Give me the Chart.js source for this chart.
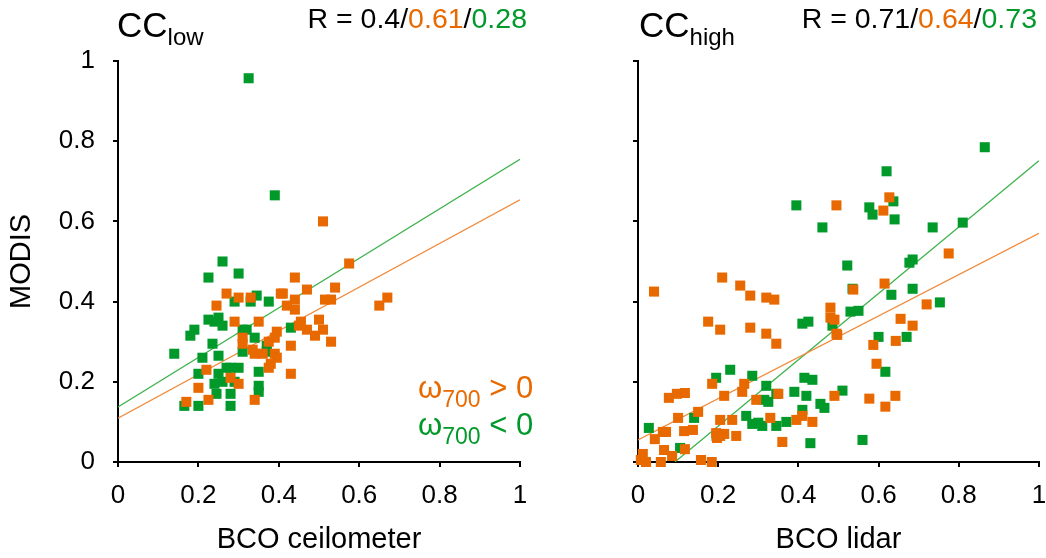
<!DOCTYPE html>
<html>
<head>
<meta charset="utf-8">
<script src="https://cdn.jsdelivr.net/npm/chart.js@4"></script>
<style>
  html, body { margin: 0; padding: 0; background: #fff; }
  body { width: 1046px; height: 558px; position: relative; overflow: hidden; font-family: 'Liberation Sans', Arial, sans-serif; }
  .panel { position: absolute; top: 0; height: 558px; }
  .txt { position: absolute; line-height: 1; white-space: nowrap; color: #000; }
  .sub { position: relative; }
  .up { color: #e86900; }
  .down { color: #00992a; }
</style>
</head>
<body>
<div class="panel" style="left:0;width:540px"><canvas id="lowChart"></canvas></div>
<div class="panel" style="left:540px;width:506px"><canvas id="highChart"></canvas></div>

<div class="txt" style="left:117px;top:7px;font-size:35px">CC<span class="sub" style="font-size:24px;top:8px">low</span></div>
<div class="txt" style="right:519px;top:4px;font-size:28.5px">R = 0.4/<span class="up">0.61</span>/<span class="down">0.28</span></div>
<div class="txt" style="left:639px;top:7px;font-size:35px">CC<span class="sub" style="font-size:24px;top:8px">high</span></div>
<div class="txt" style="right:9px;top:4px;font-size:28.5px">R = 0.71/<span class="up">0.64</span>/<span class="down">0.73</span></div>

<div class="txt up" style="left:418px;top:372px;font-size:31px">ω<span class="sub" style="font-size:23px;top:9px">700</span> &gt; 0</div>
<div class="txt down" style="left:418px;top:409px;font-size:31px">ω<span class="sub" style="font-size:23px;top:9px">700</span> &lt; 0</div>

<script>
( function () {
	'use strict';

	// CC_low: BCO ceilometer (x) vs MODIS (y)
	const LOW_UP = [
		[0.51, 0.60], [0.575, 0.495], [0.44, 0.46], [0.27, 0.42], [0.30, 0.41], [0.33, 0.41],
		[0.405, 0.42], [0.41, 0.42], [0.44, 0.405], [0.47, 0.43], [0.54, 0.435], [0.515, 0.405],
		[0.53, 0.405], [0.67, 0.41], [0.65, 0.39], [0.245, 0.39], [0.42, 0.39], [0.44, 0.38],
		[0.29, 0.35], [0.35, 0.35], [0.455, 0.35], [0.50, 0.355], [0.395, 0.325], [0.45, 0.34],
		[0.47, 0.33], [0.51, 0.33], [0.49, 0.315], [0.39, 0.31], [0.31, 0.31], [0.375, 0.30],
		[0.53, 0.30], [0.31, 0.295], [0.43, 0.29], [0.335, 0.28], [0.39, 0.27], [0.34, 0.27],
		[0.36, 0.27], [0.395, 0.26], [0.38, 0.245], [0.375, 0.235], [0.22, 0.23], [0.43, 0.22],
		[0.28, 0.21], [0.30, 0.195], [0.20, 0.185], [0.17, 0.15], [0.225, 0.155], [0.34, 0.155],
	];
	const LOW_DOWN = [
		[0.325, 0.957], [0.39, 0.665], [0.26, 0.50], [0.225, 0.46], [0.30, 0.47], [0.345, 0.415],
		[0.29, 0.40], [0.33, 0.40], [0.375, 0.40], [0.225, 0.355], [0.25, 0.36], [0.24, 0.35],
		[0.26, 0.34], [0.19, 0.33], [0.18, 0.315], [0.31, 0.33], [0.32, 0.33], [0.34, 0.31],
		[0.43, 0.335], [0.235, 0.295], [0.37, 0.29], [0.37, 0.275], [0.31, 0.275], [0.14, 0.27],
		[0.21, 0.26], [0.25, 0.265], [0.20, 0.22], [0.27, 0.235], [0.28, 0.235], [0.30, 0.235],
		[0.25, 0.22], [0.35, 0.225], [0.26, 0.20], [0.29, 0.20], [0.24, 0.195], [0.35, 0.19],
		[0.35, 0.175], [0.245, 0.17], [0.28, 0.17], [0.165, 0.14], [0.20, 0.14], [0.28, 0.14],
	];
	const LOW_FIT_UP = [ [ 0, 0.109 ], [ 1, 0.654 ] ];
	const LOW_FIT_DOWN = [ [ 0, 0.137 ], [ 1, 0.755 ] ];

	// CC_high: BCO lidar (x) vs MODIS (y)
	const HIGH_UP = [
		[0.495, 0.64], [0.04, 0.425], [0.21, 0.46], [0.255, 0.44], [0.28, 0.415], [0.32, 0.41],
		[0.34, 0.405], [0.48, 0.385], [0.175, 0.35], [0.48, 0.36], [0.49, 0.355], [0.205, 0.33],
		[0.28, 0.335], [0.32, 0.32], [0.345, 0.295], [0.495, 0.32], [0.185, 0.195], [0.265, 0.195],
		[0.26, 0.175], [0.35, 0.17], [0.077, 0.16], [0.097, 0.17], [0.117, 0.172], [0.215, 0.165],
		[0.295, 0.155], [0.49, 0.165], [0.15, 0.125], [0.10, 0.11], [0.205, 0.105], [0.235, 0.105],
		[0.33, 0.11], [0.395, 0.105], [0.41, 0.115], [0.435, 0.10], [0.062, 0.075], [0.07, 0.075],
		[0.115, 0.077], [0.137, 0.08], [0.042, 0.057], [0.195, 0.072], [0.205, 0.065], [0.215, 0.07],
		[0.245, 0.065], [0.197, 0.06], [0.36, 0.05], [0.117, 0.032], [0.065, 0.03], [0.085, 0.015],
		[0.012, 0.02], [0.007, 0.005], [0.02, 0.0], [0.057, 0.0], [0.157, 0.005], [0.184, 0.0],
		[0.627, 0.66], [0.612, 0.627], [0.775, 0.52], [0.615, 0.445], [0.537, 0.43], [0.72, 0.393],
		[0.655, 0.357], [0.685, 0.34], [0.497, 0.317], [0.587, 0.292], [0.643, 0.302], [0.595, 0.245],
		[0.577, 0.158], [0.642, 0.165], [0.617, 0.138],
	];
	const HIGH_DOWN = [
		[0.395, 0.64], [0.46, 0.585], [0.41, 0.345], [0.425, 0.35], [0.485, 0.34], [0.195, 0.21],
		[0.23, 0.23], [0.285, 0.215], [0.32, 0.19], [0.345, 0.17], [0.39, 0.175], [0.415, 0.21],
		[0.435, 0.205], [0.42, 0.165], [0.315, 0.155], [0.325, 0.15], [0.41, 0.13], [0.455, 0.145],
		[0.465, 0.135], [0.14, 0.11], [0.27, 0.115], [0.285, 0.095], [0.30, 0.098], [0.31, 0.09],
		[0.345, 0.09], [0.37, 0.10], [0.027, 0.085], [0.196, 0.065], [0.43, 0.047], [0.105, 0.035],
		[0.865, 0.785], [0.62, 0.725], [0.637, 0.65], [0.577, 0.635], [0.585, 0.617], [0.64, 0.605],
		[0.735, 0.585], [0.81, 0.597], [0.677, 0.497], [0.685, 0.505], [0.522, 0.49], [0.535, 0.432],
		[0.632, 0.417], [0.685, 0.432], [0.753, 0.398], [0.53, 0.375], [0.55, 0.377], [0.60, 0.312],
		[0.67, 0.312], [0.617, 0.225], [0.51, 0.178], [0.56, 0.055],
	];
	const HIGH_FIT_UP = [ [ 0, 0.055 ], [ 1, 0.57 ] ];
	const HIGH_FIT_DOWN = [ [ 0.092, 0 ], [ 1, 0.751 ] ];

	const TICKS = [ 0, 0.2, 0.4, 0.6, 0.8, 1 ];

	const ORANGE = '#e86900';
	const GREEN = '#00992a';
	const ORANGE_LINE = '#f08a3c';
	const GREEN_LINE = '#3db24c';
	const FONT = "'Liberation Sans', Arial, sans-serif";

	function toPoints( rows ) {
		return rows.map( function ( r ) {
			return { x: r[ 0 ], y: r[ 1 ] };
		} );
	}

	function tickLabel( v ) {
		if ( v === 0 || v === 1 ) {
			return String( v );
		}
		return v.toFixed( 1 );
	}

	function scatterSet( rows, color ) {
		return {
			type: 'scatter',
			data: toPoints( rows ),
			pointStyle: 'rect',
			pointRadius: 7.1,
			pointHoverRadius: 7.1,
			pointBorderWidth: 0,
			backgroundColor: color,
			borderColor: color,
			clip: false,
		};
	}

	function fitSet( rows, color ) {
		return {
			type: 'line',
			data: toPoints( rows ),
			borderColor: color,
			borderWidth: 1.3,
			pointRadius: 0,
			fill: false,
		};
	}

	function axisBase() {
		return {
			type: 'linear',
			min: 0,
			max: 1,
			afterBuildTicks: function ( scale ) {
				scale.ticks = TICKS.map( function ( v ) {
					return { value: v };
				} );
			},
			grid: {
				display: true,
				drawOnChartArea: false,
				drawTicks: true,
				tickLength: 5,
				color: '#000',
				lineWidth: 2,
			},
			border: { display: true, color: '#000', width: 2 },
		};
	}

	function makeChart( id, opts ) {
		const xAxis = Object.assign( axisBase(), {
			afterFit: function ( s ) {
				s.height = 96;
				s.paddingLeft = 0;
				s.paddingRight = 0;
			},
			ticks: {
				color: '#000',
				font: { family: FONT, size: 26 },
				padding: 13,
				maxRotation: 0,
				autoSkip: false,
				callback: tickLabel,
			},
			title: {
				display: true,
				text: opts.xTitle,
				color: '#000',
				font: { family: FONT, size: 29 },
				padding: { top: 0, bottom: 1 },
			},
		} );

		const yAxis = Object.assign( axisBase(), {
			afterFit: function ( s ) {
				s.width = opts.yWidth;
				s.paddingTop = 0;
				s.paddingBottom = 0;
			},
			ticks: {
				color: '#000',
				font: { family: FONT, size: 26 },
				padding: 18,
				autoSkip: false,
				callback: opts.yLabels ? tickLabel : function () {
					return '';
				},
			},
			title: {
				display: Boolean( opts.yTitle ),
				text: opts.yTitle || '',
				color: '#000',
				font: { family: FONT, size: 29 },
				padding: { top: 5, bottom: 0 },
			},
		} );

		return new Chart( document.getElementById( id ).getContext( '2d' ), {
			type: 'scatter',
			data: {
				datasets: [
					scatterSet( opts.up, ORANGE ),
					scatterSet( opts.down, GREEN ),
					fitSet( opts.fitUp, ORANGE_LINE ),
					fitSet( opts.fitDown, GREEN_LINE ),
				],
			},
			options: {
				responsive: true,
				maintainAspectRatio: false,
				animation: false,
				layout: { padding: { top: 61, right: opts.padRight, left: 0, bottom: 0 } },
				plugins: {
					legend: { display: false },
					tooltip: { enabled: false },
				},
				scales: { x: xAxis, y: yAxis },
			},
		} );
	}

	makeChart( 'lowChart', {
		up: LOW_UP,
		down: LOW_DOWN,
		fitUp: LOW_FIT_UP,
		fitDown: LOW_FIT_DOWN,
		xTitle: 'BCO ceilometer',
		yTitle: 'MODIS',
		yLabels: true,
		yWidth: 118,
		padRight: 20,
	} );

	makeChart( 'highChart', {
		up: HIGH_UP,
		down: HIGH_DOWN,
		fitUp: HIGH_FIT_UP,
		fitDown: HIGH_FIT_DOWN,
		xTitle: 'BCO lidar',
		yTitle: '',
		yLabels: false,
		yWidth: 98,
		padRight: 6,
	} );
}() );
</script>
</body>
</html>
